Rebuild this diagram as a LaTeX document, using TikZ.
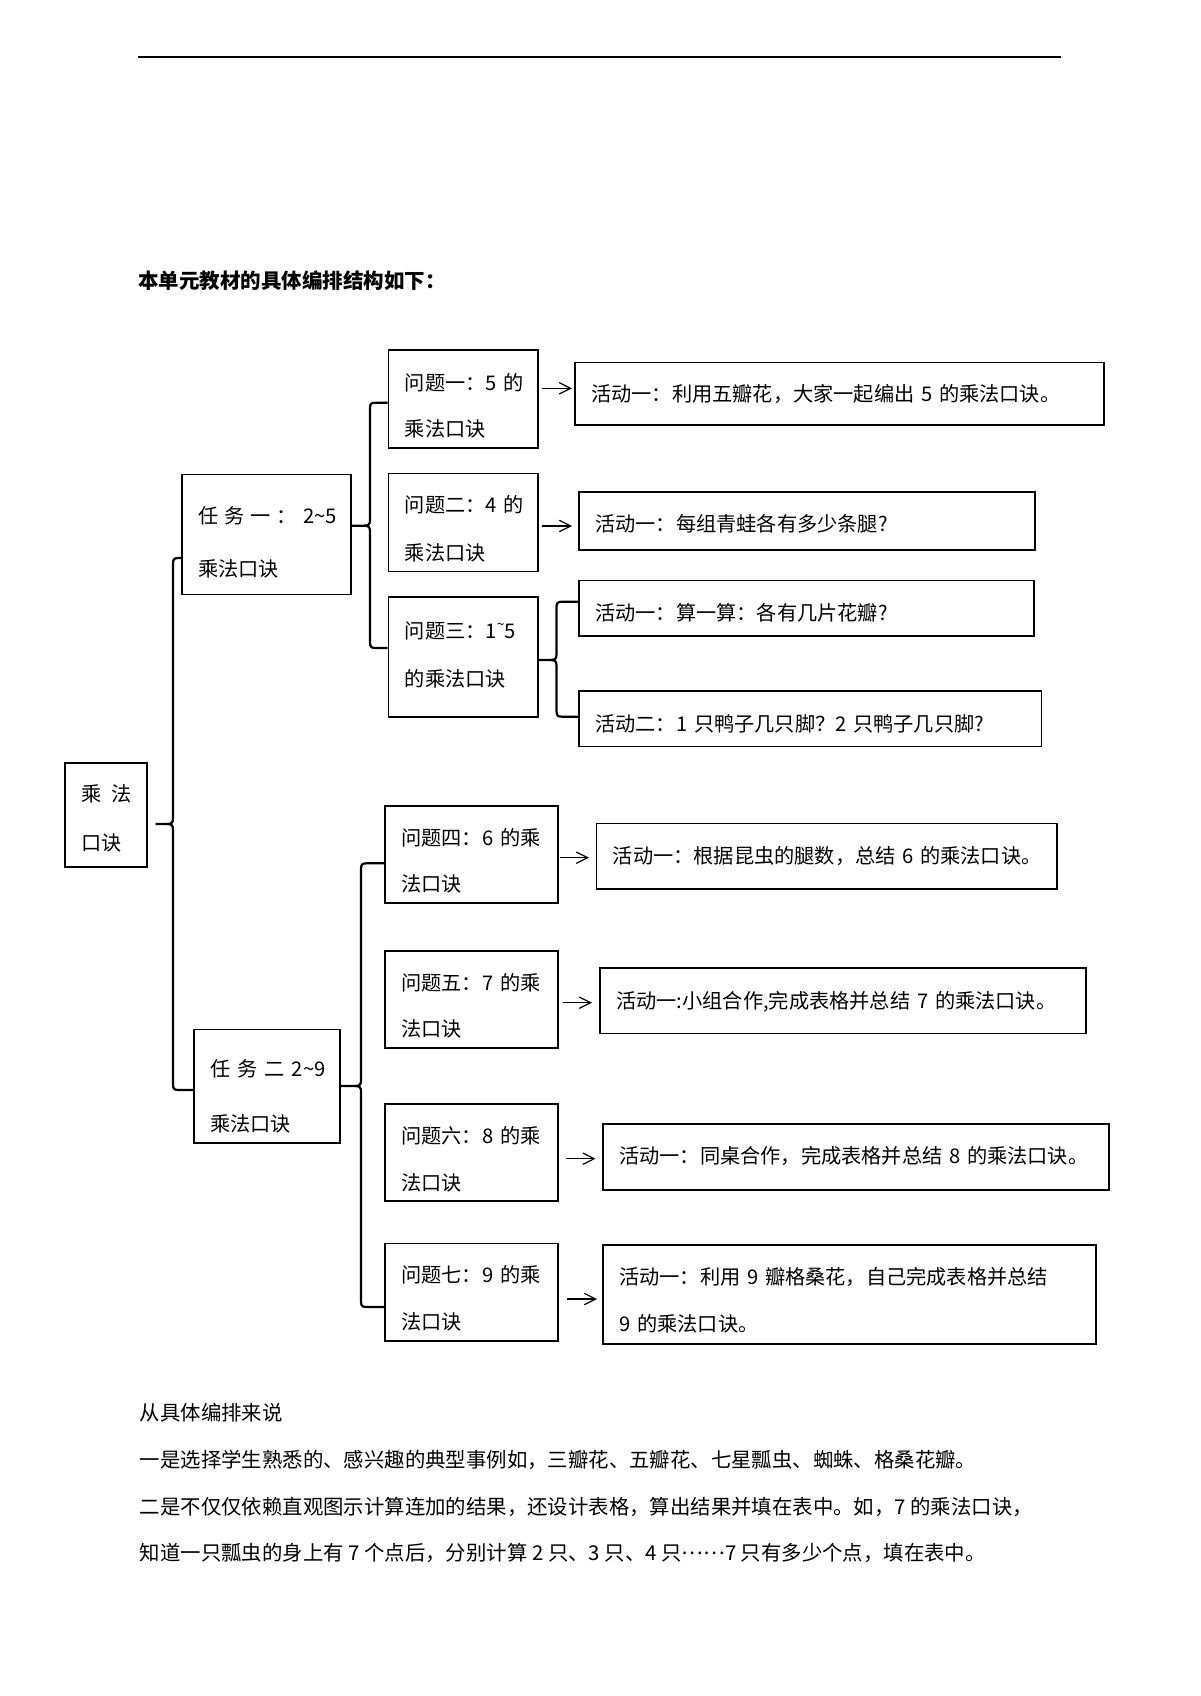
\documentclass[tikz,border=0pt]{standalone}
\usepackage{fontspec}
\setmainfont{Noto Sans CJK SC}
\usetikzlibrary{arrows.meta,calc}
\tikzset{
  box/.style={draw=black, line width=0.8pt, rectangle, inner sep=0pt, align=left, anchor=north west},
  br/.style={draw=black, line width=1.1pt, line join=round},
  arr/.style={draw=black, line width=0.6pt, -{Straight Barb[length=5.7pt,width=5.7pt]}},
  plain/.style={inner sep=0pt, anchor=base west},
}
% #1 name, #2 x1, #3 y1, #4 x2, #5 y2, #6 pad, #7 first text centre y, #8 line spacing, #9 text
\newcommand\bx[9]{%
  \pgfmathsetmacro\bxw{(#4-#2)/2}%
  \pgfmathsetmacro\bxh{(#5-#3)/2}%
  \pgfmathsetmacro\bxt{(#4-#2)/2-#6}%
  \pgfmathsetmacro\bxa{((#7+7.7-(#3+#5)/2)*2+#8+6)/2}%
  \pgfmathsetmacro\bxs{max(#8/2,12)}%
  \node[box, minimum width=\bxw pt, minimum height=\bxh pt, text width=\bxt pt,
        font=\fontsize{10.1}{\bxs pt}\selectfont] (#1) at (#2,#3)
        {\rule{0pt}{\bxa pt}#9\rule[-3pt]{0pt}{3pt}};%
}
% #1 parent point, #2 xv, #3 ymid, #4 ytop, #5 top child, #6 ybot, #7 bottom child
\newcommand\brc[7]{%
  \draw[br] (#1) -- (#2-6,#3) .. controls (#2-1,#3) and (#2,#3-1.5) .. (#2,#3-6)
     -- (#2,#4+6) .. controls (#2,#4+1) and (#2+1,#4) .. (#2+6,#4) -- (#5.west |- 0,#4);
  \draw[br] (#2-6,#3) .. controls (#2-1,#3) and (#2,#3+1.5) .. (#2,#3+6)
     -- (#2,#6-6) .. controls (#2,#6-1) and (#2+1,#6) .. (#2+6,#6) -- (#7.west |- 0,#6);
}
\newcommand\tld{\textasciitilde}
\newcommand\myell{\raisebox{0.32em}{……}}
\begin{document}
\begin{tikzpicture}[x=0.5pt,y=-0.5pt]
\useasboundingbox (0,0) rectangle (1200,1696);
\fill[white] (0,0) rectangle (1200,1696);

% header rule and title
\draw[line width=0.85pt] (137.7,57) -- (1060.6,57);
\node[plain, font=\fontsize{10.25}{12}\selectfont\bfseries] (title) at (138,288) {本单元教材的具体编排结构如下：};

% root and tasks
\bx{root}{64}{762}{146}{866}{16.5}{793}{49}{乘\kern5pt 法\\口诀}
\bx{t1}{181}{473.7}{350}{593.7}{16.5}{515}{53}{任\kern3pt 务\kern3pt 一\kern3pt ：\kern3pt 2\tld5\\乘法口诀}
\bx{t2}{193}{1028.7}{339}{1142}{16.5}{1068}{55}{任\kern3.5pt 务\kern3.5pt 二\kern3.5pt 2\tld9\\乘法口诀}

% problems
\bx{q1}{387.5}{349}{537}{447}{16.5}{381.7}{46.3}{问题一：5~的\\乘法口诀}
\bx{q2}{387.5}{472.7}{537}{570.7}{16.5}{504.3}{47.4}{问题二：4~的\\乘法口诀}
\bx{q3}{387.5}{596}{537}{716}{16.5}{627.3}{47.7}{问题三：1\raisebox{0.45em}{\fontsize{7}{7}\selectfont\tld}5\\的乘法口诀}
\bx{q4}{384}{805.3}{557}{902.3}{16.5}{836.7}{46.3}{问题四：6~的乘\\法口诀}
\bx{q5}{384}{950.3}{557}{1047.3}{16.5}{981.7}{46.3}{问题五：7~的乘\\法口诀}
\bx{q6}{384}{1103}{557}{1200}{16.5}{1135}{46.7}{问题六：8~的乘\\法口诀}
\bx{q7}{384}{1242.7}{557}{1340}{16.5}{1274}{46.7}{问题七：9~的乘\\法口诀}

% activities
\bx{a1}{574}{361.7}{1103}{424.3}{16.5}{393}{0}{活动一：利用五瓣花，大家一起编出~5~的乘法口诀。}
\bx{a2}{578}{491.3}{1034}{549.3}{16.5}{523}{0}{活动一：每组青蛙各有多少条腿?}
\bx{a31}{578}{579.7}{1033}{635.3}{16.5}{611.7}{0}{活动一：算一算：各有几片花瓣?}
\bx{a32}{578}{690}{1040.6}{745.7}{16.5}{722.7}{0}{活动二：1~只鸭子几只脚？2~只鸭子几只脚?}
\bx{a4}{595.5}{822.7}{1056}{888}{16.5}{855}{0}{活动一：根据昆虫的腿数，总结~6~的乘法口诀。}
\bx{a5}{599}{967.3}{1085}{1032.7}{16.5}{1000}{0}{活动一:小组合作,完成表格并总结~7~的乘法口诀。}
\bx{a6}{602}{1123.3}{1108}{1189}{16.5}{1155}{0}{活动一：同桌合作，完成表格并总结~8~的乘法口诀。}
\bx{a7}{602}{1244.3}{1095}{1343.3}{16.5}{1276}{46.7}{活动一：利用~9~瓣格桑花，自己完成表格并总结\\9~的乘法口诀。}

% braces
\brc{$(root.east |- 0,824)+(8,0)$}{173}{824}{558}{t1}{1090}{t2}
\brc{t1.east |- 0,525.7}{370}{525.7}{402.7}{q1}{648}{q3}
\brc{q3.east |- 0,660}{556.5}{660}{601.7}{a31}{716.7}{a32}
\brc{t2.east |- 0,1086}{361}{1086}{863.3}{q4}{1307}{q7}

% arrows
\draw[arr, shorten <=1.5pt, shorten >=1pt] (q1.east |- 0,388.3) -- (a1.west |- 0,388.3);
\draw[arr, shorten <=1.5pt, shorten >=3pt] (q2.east |- 0,526) -- (a2.west |- 0,526);
\draw[arr, shorten <=0.5pt, shorten >=3.25pt] (q4.east |- 0,857.7) -- (a4.west |- 0,857.7);
\draw[arr, shorten <=2pt, shorten >=3.5pt] (q5.east |- 0,1002.7) -- (a5.west |- 0,1002.7);
\draw[arr, shorten <=3.5pt, shorten >=3.25pt] (q6.east |- 0,1158.7) -- (a6.west |- 0,1158.7);
\draw[arr, shorten <=4pt, shorten >=2.5pt] (q7.east |- 0,1299) -- (a7.west |- 0,1299);

% closing paragraph
\begin{scope}[every node/.style={plain, font=\fontsize{10.2}{12}\selectfont}]
\node (p0) at (139.5,1420.8) {从具体编排来说};
\node (p1) at (139.5,1467.8) {一是选择学生熟悉的、感兴趣的典型事例如，三瓣花、五瓣花、七星瓢虫、蜘蛛、格桑花瓣。};
\node (p2) at (139.5,1514.5) {二是不仅仅依赖直观图示计算连加的结果，还设计表格，算出结果并填在表中。如，7 的乘法口诀，};
\node (p3) at (139.5,1560.8) {知道一只瓢虫的身上有 7 个点后，分别计算 2 只、3 只、4 只\myell 7 只有多少个点，填在表中。};
\end{scope}
\end{tikzpicture}
\end{document}
